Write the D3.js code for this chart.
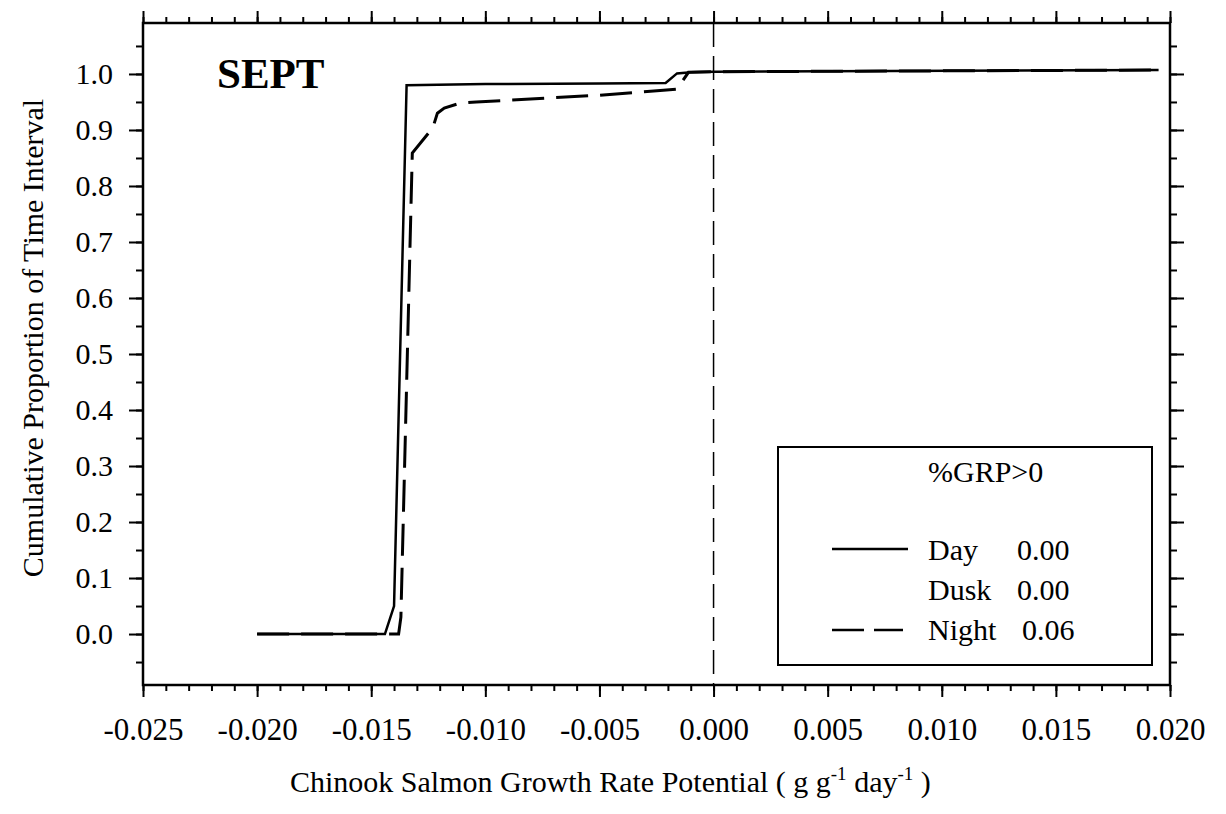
<!DOCTYPE html>
<html>
<head>
<meta charset="utf-8">
<script src="https://cdn.jsdelivr.net/npm/d3@7"></script>
<style>
  body { margin: 0; background: #fff; }
  text { font-family: "Liberation Serif", "DejaVu Serif", serif; fill: #000; }
</style>
</head>
<body>
<svg id="chart"></svg>
<script>
// chart size and plot frame
const width = 1226, height = 814;
const margin = {top: 23, bottom: 129, left: 143, right: 56};

// data
const xTicks = [-0.025, -0.020, -0.015, -0.010, -0.005, 0.000, 0.005, 0.010, 0.015, 0.020];
const yTicks = [0.0, 0.1, 0.2, 0.3, 0.4, 0.5, 0.6, 0.7, 0.8, 0.9, 1.0];

const dayX = [-0.0200, -0.0144, -0.0140, -0.01345, -0.0100, -0.0050, -0.0021, -0.0016, -0.0010, 0.0000, 0.0195];
const dayY = [0.000, 0.000, 0.050, 0.980, 0.982, 0.983, 0.984, 1.001, 1.003, 1.004, 1.007];

const nightX = [-0.0200, -0.0138, -0.0137, -0.0132, -0.0123, -0.0121, -0.0118, -0.0111, -0.0104, -0.0050, -0.0022, -0.0016, -0.0011, 0.0000, 0.0195];
const nightY = [0.000, 0.000, 0.030, 0.859, 0.904, 0.930, 0.939, 0.948, 0.950, 0.962, 0.971, 0.973, 1.003, 1.004, 1.007];

const legendNames = ["Day", "Dusk", "Night"];
const legendValues = ["0.00", "0.00", "0.06"];

const svg = d3.select("#chart")
    .attr("width", width)
    .attr("height", height)
    .style("background", "#ffffff");

const xScale = d3.scaleLinear()
    .domain([-0.025, 0.020])
    .range([margin.left, width - margin.right]);

const yScale = d3.scaleLinear()
    .domain([-0.091, 1.091])
    .range([height - margin.bottom, margin.top]);

const x0 = margin.left, x1 = width - margin.right;
const y0 = height - margin.bottom, y1 = margin.top;

const xMinor = d3.range(-25, 21).map(d => d / 1000);
const yMinor = d3.range(-1, 22).map(d => d * 0.05);

// plain hyphen instead of the unicode minus d3 uses
const fmtX = d => d3.format(".3f")(d).replace("\u2212", "-");
const fmtY = d => d3.format(".1f")(d).replace("\u2212", "-");

function styleAxis(g) {
    g.select(".domain").remove();
    g.selectAll(".tick line").attr("stroke", "#000").attr("stroke-width", 2);
}

// bottom axis
svg.append("g")
    .attr("transform", `translate(0,${y0})`)
    .call(d3.axisBottom(xScale).tickValues(xMinor).tickSize(6).tickFormat(""))
    .call(styleAxis);
svg.append("g")
    .attr("transform", `translate(0,${y0})`)
    .call(d3.axisBottom(xScale).tickValues(xTicks).tickSize(12).tickPadding(21).tickFormat(fmtX))
    .call(styleAxis)
    .call(g => g.selectAll(".tick text").style("font-size", "31px"));

// top axis
svg.append("g")
    .attr("transform", `translate(0,${y1})`)
    .call(d3.axisTop(xScale).tickValues(xMinor).tickSize(6).tickFormat(""))
    .call(styleAxis);
svg.append("g")
    .attr("transform", `translate(0,${y1})`)
    .call(d3.axisTop(xScale).tickValues(xTicks).tickSize(12).tickFormat(""))
    .call(styleAxis);

// left axis
svg.append("g")
    .attr("transform", `translate(${x0},0)`)
    .call(d3.axisLeft(yScale).tickValues(yMinor).tickSize(7).tickFormat(""))
    .call(styleAxis);
svg.append("g")
    .attr("transform", `translate(${x0},0)`)
    .call(d3.axisLeft(yScale).tickValues(yTicks).tickSize(14).tickPadding(16).tickFormat(fmtY))
    .call(styleAxis)
    .call(g => g.selectAll(".tick text").style("font-size", "30px"));

// right axis
svg.append("g")
    .attr("transform", `translate(${x1},0)`)
    .call(d3.axisRight(yScale).tickValues(yMinor).tickSize(7).tickFormat(""))
    .call(styleAxis);
svg.append("g")
    .attr("transform", `translate(${x1},0)`)
    .call(d3.axisRight(yScale).tickValues(yTicks).tickSize(14).tickFormat(""))
    .call(styleAxis);

// frame
svg.append("rect")
    .attr("x", x0).attr("y", y1)
    .attr("width", x1 - x0).attr("height", y0 - y1)
    .attr("fill", "none")
    .attr("stroke", "#000")
    .attr("stroke-width", 2.5);

// zero reference line
svg.append("line")
    .attr("x1", xScale(0)).attr("x2", xScale(0))
    .attr("y1", y1).attr("y2", y0)
    .attr("stroke", "#000")
    .attr("stroke-width", 1.5)
    .attr("stroke-dasharray", "24,9");

// the curves
const line = d3.line()
    .x(d => xScale(d.x))
    .y(d => yScale(d.y));

const dayData = dayX.map((x, i) => ({x: x, y: dayY[i]}));
const nightData = nightX.map((x, i) => ({x: x, y: nightY[i]}));

svg.append("path")
    .datum(nightData)
    .attr("fill", "none")
    .attr("stroke", "#000")
    .attr("stroke-width", 3)
    .attr("stroke-dasharray", "32,12")
    .attr("d", line);

svg.append("path")
    .datum(dayData)
    .attr("fill", "none")
    .attr("stroke", "#000")
    .attr("stroke-width", 2.5)
    .attr("d", line);

// panel label
svg.append("text")
    .attr("x", 217)
    .attr("y", 88)
    .style("font-size", "43px")
    .style("font-weight", "bold")
    .text("SEPT");

// axis titles
const xTitle = svg.append("text")
    .attr("x", 290)
    .attr("y", 792)
    .style("font-size", "30px");
xTitle.append("tspan").text("Chinook Salmon Growth Rate Potential ( g  g");
xTitle.append("tspan").attr("dy", -12).style("font-size", "19px").text("-1");
xTitle.append("tspan").attr("dy", 12).text(" day");
xTitle.append("tspan").attr("dy", -12).style("font-size", "19px").text("-1");
xTitle.append("tspan").attr("dy", 12).text(" )");

svg.append("text")
    .attr("transform", `translate(43, 338) rotate(-90)`)
    .attr("text-anchor", "middle")
    .style("font-size", "30px")
    .text("Cumulative Proportion of Time Interval");

// legend
const legend = svg.append("g");
legend.append("rect")
    .attr("x", 778).attr("y", 447)
    .attr("width", 374).attr("height", 218)
    .attr("fill", "#fff")
    .attr("stroke", "#000")
    .attr("stroke-width", 2);

legend.append("text")
    .attr("x", 928)
    .attr("y", 482)
    .style("font-size", "30px")
    .text("%GRP>0");

const rowY = [560, 600, 640];
legendNames.forEach((name, i) => {
    legend.append("text")
        .attr("x", 928).attr("y", rowY[i])
        .style("font-size", "30px")
        .text(name);
    legend.append("text")
        .attr("x", name === "Night" ? 1022 : 1017).attr("y", rowY[i])
        .style("font-size", "30px")
        .text(legendValues[i]);
});

legend.append("line")
    .attr("x1", 832).attr("x2", 908)
    .attr("y1", 549).attr("y2", 549)
    .attr("stroke", "#000").attr("stroke-width", 2.5);

legend.append("line")
    .attr("x1", 832).attr("x2", 903)
    .attr("y1", 630).attr("y2", 630)
    .attr("stroke", "#000").attr("stroke-width", 2.5)
    .attr("stroke-dasharray", "32,10");
</script>
</body>
</html>
